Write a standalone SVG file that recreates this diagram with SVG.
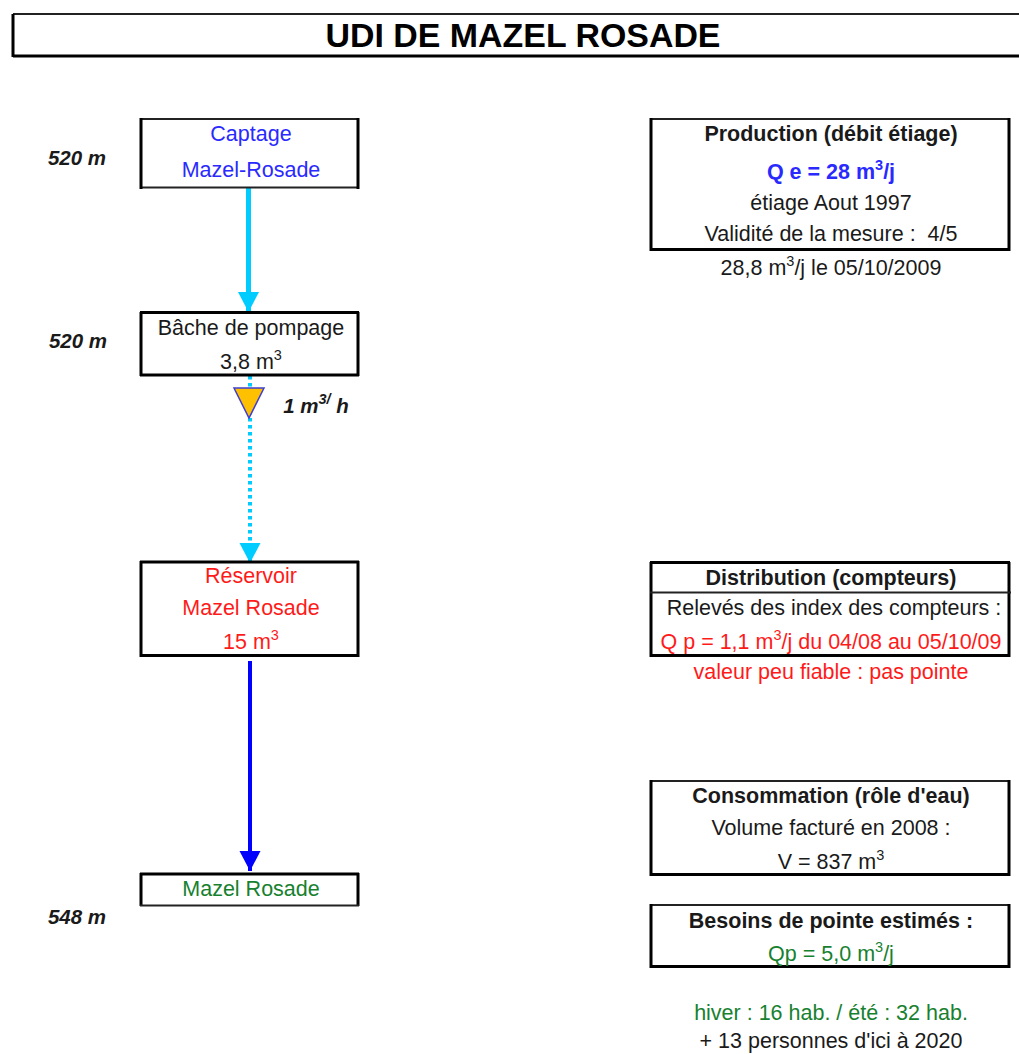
<svg xmlns="http://www.w3.org/2000/svg" width="1019" height="1054" viewBox="0 0 1019 1054">
<style>
text{font-family:"Liberation Sans",Arial,sans-serif;font-size:21.500px;text-anchor:middle;fill:#1a1a1a}
.t{stroke:#222;stroke-width:2;fill:none}
.b{stroke:#000;stroke-width:3;fill:none}
.blue{fill:#2a2aff}.red{fill:#ff1a1a}.green{fill:#17812f}
.bold{font-weight:bold}
.title{font-weight:bold;font-size:34px;fill:#000}
.alt{font-style:italic;font-weight:bold;font-size:20.500px}
.sup{font-size:14.500px}
</style>
<defs>
<marker id="ac" markerUnits="userSpaceOnUse" markerWidth="22" markerHeight="22" refX="20" refY="10.5" orient="auto"><path d="M0 0L20 10.5L0 21Z" fill="#00ccff"/></marker>
<marker id="ab" markerUnits="userSpaceOnUse" markerWidth="22" markerHeight="22" refX="20" refY="10.5" orient="auto"><path d="M0 0L20 10.5L0 21Z" fill="#0000ff"/></marker>
</defs>
<g id="title">
<path class="t" d="M13 14H1019"/><path class="b" d="M13 14V57M13 56H1019"/>
<text x="523" y="47" class="title" textLength="395" lengthAdjust="spacingAndGlyphs">UDI DE MAZEL ROSADE</text>
</g>
<g id="connectors">
<path d="M248.500 188V312" stroke="#00ccff" stroke-width="5" fill="none" marker-end="url(#ac)"/>
<path d="M250 376V563" stroke="#00ccff" stroke-width="4" stroke-dasharray="3.500 3.500" fill="none" marker-end="url(#ac)"/>
<path d="M250 661V871" stroke="#0000ff" stroke-width="4" fill="none" marker-end="url(#ab)"/>
</g>
<g id="captage">
<path class="t" d="M140 119H359M140 187.500H359"/><path class="b" d="M141 118V189M358 118V189"/>
<text x="251" y="141" class="blue">Captage</text>
<text x="251" y="177" class="blue">Mazel-Rosade</text>
</g>
<text x="77" y="165" class="alt">520 m</text>
<g id="bache">
<path class="b" d="M140 312.500H359M140 375H359M141 312V376M358 312V376"/>
<text x="251" y="335">Bâche de pompage</text>
<text x="251" y="369">3,8 m<tspan class="sup" dy="-9">3</tspan></text>
</g>
<text x="78" y="348" class="alt">520 m</text>
<g id="pump">
<path d="M234 388H264L249 418Z" fill="#ffc000" stroke="#3f3fd0" stroke-width="1.500"/>
<text x="316" y="413" class="alt">1 m<tspan class="sup" dy="-9">3/</tspan><tspan dy="9"> h</tspan></text>
</g>
<g id="reservoir">
<path class="b" d="M140 562H359M140 655.500H359M141 561V657M358 561V657"/>
<text x="251" y="583" class="red">Réservoir</text>
<text x="251" y="615" class="red">Mazel Rosade</text>
<text x="251" y="649" class="red">15 m<tspan class="sup" dy="-9">3</tspan></text>
</g>
<g id="mazel-rosade">
<path class="b" d="M140 874H359M141 873V906M358 873V906"/><path class="t" d="M140 905.500H359"/>
<text x="251" y="896" class="green">Mazel Rosade</text>
</g>
<text x="77" y="924" class="alt">548 m</text>
<g id="production">
<path class="t" d="M650 119H1010"/><path class="b" d="M650 249.500H1010M651 118V251M1009 118V251"/>
<text x="831" y="141" class="bold">Production (débit étiage)</text>
<text x="831" y="179" class="blue bold">Q e = 28 m<tspan class="sup" dy="-9">3</tspan><tspan dy="9">/j</tspan></text>
<text x="831" y="210">étiage Aout 1997</text>
<text x="831" y="241" xml:space="preserve">Validité de la mesure :  4/5</text>
</g>
<text x="831" y="275">28,8 m<tspan class="sup" dy="-9">3</tspan><tspan dy="9">/j le 05/10/2009</tspan></text>
<g id="distribution">
<path class="b" d="M650 562.500H1010M650 655.500H1010M651 562V657M1009 562V657"/><path class="t" d="M650 592.500H1011"/>
<text x="831" y="585" class="bold">Distribution (compteurs)</text>
<text x="834" y="615">Relevés des index des compteurs :</text>
<text x="831" y="649" class="red">Q p = 1,1 m<tspan class="sup" dy="-9">3</tspan><tspan dy="9">/j du 04/08 au 05/10/09</tspan></text>
</g>
<text x="831" y="679" class="red">valeur peu fiable : pas pointe</text>
<g id="consommation">
<path class="t" d="M650 781H1010"/><path class="b" d="M650 874.500H1010M651 780V876M1009 780V876"/>
<text x="831" y="803" class="bold">Consommation (rôle d'eau)</text>
<text x="831" y="835">Volume facturé en 2008 :</text>
<text x="831" y="869">V = 837 m<tspan class="sup" dy="-9">3</tspan></text>
</g>
<g id="besoins">
<path class="t" d="M650 905H1010"/><path class="b" d="M650 966.500H1010M651 904V968M1009 904V968"/>
<text x="831" y="928" class="bold">Besoins de pointe estimés :</text>
<text x="831" y="961" class="green">Qp = 5,0 m<tspan class="sup" dy="-9">3</tspan><tspan dy="9">/j</tspan></text>
</g>
<text x="831" y="1020" class="green">hiver : 16 hab. / été : 32 hab.</text>
<text x="831" y="1048">+ 13 personnes d'ici à 2020</text>
</svg>
